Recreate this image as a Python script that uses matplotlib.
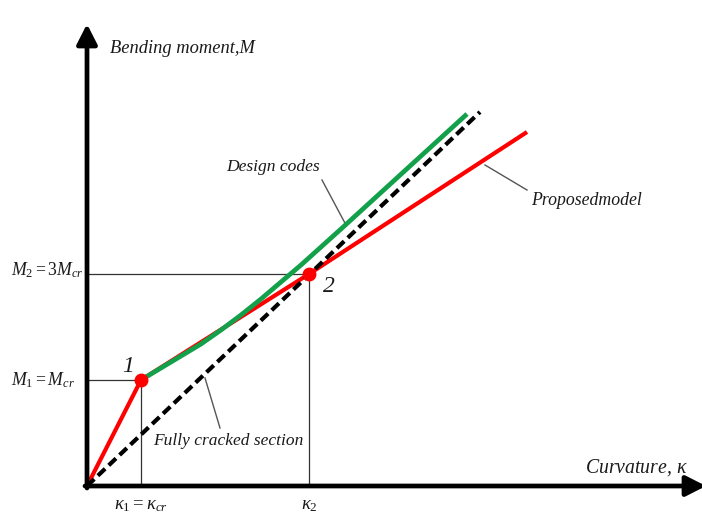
import matplotlib
matplotlib.use("Agg")
import matplotlib.pyplot as plt

plt.rcParams['mathtext.fontset'] = 'custom'
plt.rcParams['mathtext.rm'] = 'Liberation Serif'
plt.rcParams['mathtext.it'] = 'Liberation Serif:italic'
plt.rcParams['mathtext.bf'] = 'Liberation Serif:bold'

# ---- data (curvature kappa, moment M), arbitrary units ----
kappa_1, M_1 = 0.54, 1.06
kappa_2, M_2 = 2.22, 2.12

proposed_k = [0.0, 0.54, 2.22, 4.40]
proposed_M = [0.0, 1.06, 2.12, 3.54]

design_k = [0.54, 0.74, 0.94, 1.14, 1.34, 1.54, 1.74, 1.94, 2.14, 2.34, 2.54, 3.80]
design_M = [1.06, 1.18, 1.30, 1.42, 1.56, 1.71, 1.87, 2.04, 2.21, 2.39, 2.57, 3.72]

cracked_k = [0.0, 3.93]
cracked_M = [0.0, 3.74]

point_k = [kappa_1, kappa_2]
point_M = [M_1, M_2]
point_labels = ["1", "2"]

fig = plt.figure(figsize=(7.02, 5.16), dpi=100)
ax = fig.add_axes([0, 0, 1, 1])
ax.set_xlim(-0.87, 6.15)
ax.set_ylim(-0.30, 4.86)
ax.axis('off')

serif = 'Liberation Serif'

# reference lines
for k, m in zip(point_k, point_M):
    ax.plot([0, k], [m, m], color='#333333', lw=0.9, zorder=1)
    ax.plot([k, k], [0, m], color='#333333', lw=0.9, zorder=1)

# axes with arrows
arrow = dict(arrowstyle='-|>,head_length=0.55,head_width=0.28',
             lw=3.4, color='black', mutation_scale=22, shrinkA=0, shrinkB=0)
ax.annotate('', xy=(0, 4.62), xytext=(0, -0.02), arrowprops=arrow,
            annotation_clip=False, zorder=5)
ax.annotate('', xy=(6.19, 0), xytext=(-0.02, 0), arrowprops=arrow,
            annotation_clip=False, zorder=5)

# curves
ax.plot(cracked_k, cracked_M, color='black', lw=3.0, dashes=(2.4, 1.2), zorder=3)
ax.plot(proposed_k, proposed_M, color='#ff0000', lw=3.0, solid_capstyle='butt', zorder=2)
ax.plot(design_k, design_M, color='#12a04a', lw=3.4, solid_capstyle='butt',
        solid_joinstyle='round', zorder=4)
ax.plot(point_k, point_M, 'o', color='#ff0000', ms=9, zorder=6)

# leader lines
leader_col = '#555555'
ax.plot([2.35, 2.59], [3.06, 2.61], color=leader_col, lw=1.0)
ax.plot([3.98, 4.40], [3.21, 2.96], color=leader_col, lw=1.0)
ax.plot([1.18, 1.33], [1.08, 0.58], color=leader_col, lw=1.0)

# text
txt = dict(family=serif, style='italic', color='#1a1a1a')
ax.text(0.23, 4.38, 'Bending moment,M', fontsize=13.3, ha='left', va='center', **txt)
ax.text(1.86, 3.19, 'Design codes', fontsize=12.6, ha='center', va='center', **txt)
ax.text(4.44, 2.86, 'Proposedmodel', fontsize=12.8, ha='left', va='center', **txt)
ax.text(1.41, 0.45, 'Fully cracked section', fontsize=12.5, ha='center', va='center', **txt)
ax.text(4.98, 0.18, r'Curvature, $\kappa$', fontsize=14.2, ha='left', va='center', **txt)

ax.text(-0.76, 2.16, r'$M_2 = 3M_{cr}$', fontsize=12.8, ha='left', va='center', color='#1a1a1a')
ax.text(-0.76, 1.06, r'$M_1 = M_{cr}$', fontsize=12.8, ha='left', va='center', color='#1a1a1a')
ax.text(0.54, -0.19, r'$\kappa_1 = \kappa_{cr}$', fontsize=13.5, ha='center', va='center', color='#1a1a1a')
ax.text(2.22, -0.19, r'$\kappa_2$', fontsize=13.5, ha='center', va='center', color='#1a1a1a')

label_pos = [(0.41, 1.20), (2.42, 1.99)]
for (x, y), lab in zip(label_pos, point_labels):
    ax.text(x, y, lab, fontsize=17, ha='center', va='center', **txt)

fig.savefig('out.png', dpi=100)
